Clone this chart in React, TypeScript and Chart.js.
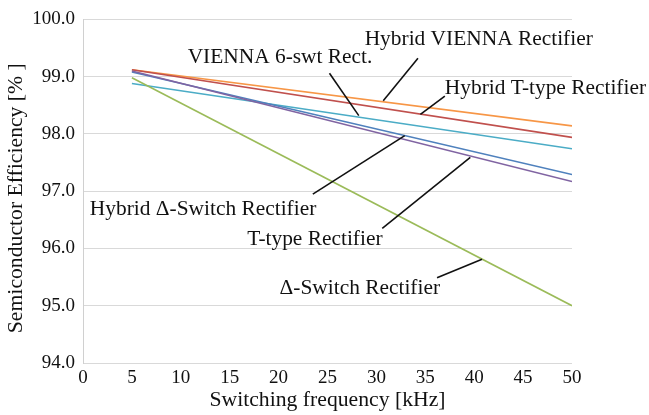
import React, { useEffect, useRef } from "react";
import { Chart, registerables } from "chart.js";

Chart.register(...registerables);

// Switching frequency sweep (kHz)
const freqKHz = [5, 50];

// Semiconductor efficiency (%) at each frequency
const hybridVienna = [99.12, 98.14];
const hybridTType = [99.12, 97.94];
const vienna6swt = [98.88, 97.74];
const hybridDeltaSwitch = [99.08, 97.29];
const tType = [99.1, 97.17];
const deltaSwitch = [98.98, 95.0];

const seriesNames = [
  "Hybrid VIENNA Rectifier",
  "Hybrid T-type Rectifier",
  "VIENNA 6-swt Rect.",
  "Hybrid Δ-Switch Rectifier",
  "T-type Rectifier",
  "Δ-Switch Rectifier",
];

const xTicks = [0, 5, 10, 15, 20, 25, 30, 35, 40, 45, 50];
const yTicks = [94, 95, 96, 97, 98, 99, 100];

const xTitle = "Switching frequency [kHz]";
const yTitle = "Semiconductor Efficiency [% ]";

const FONT = '"Liberation Serif", "Times New Roman", serif';

// Callout labels with leader lines, placed in data units (kHz, %)
const callouts = [
  { text: seriesNames[0], tx: 28.8, ty: 99.65, from: [34.25, 99.32], to: [30.7, 98.58] },
  { text: seriesNames[2], tx: 10.7, ty: 99.33, from: [25.2, 99.06], to: [28.2, 98.32] },
  { text: seriesNames[1], tx: 37.0, ty: 98.8, from: [37.0, 98.66], to: [34.5, 98.34] },
  { text: seriesNames[3], tx: 0.7, ty: 96.69, from: [23.5, 96.95], to: [32.9, 97.97] },
  { text: seriesNames[4], tx: 16.8, ty: 96.16, from: [30.6, 96.35], to: [39.6, 97.59] },
  { text: seriesNames[5], tx: 20.1, ty: 95.31, from: [36.2, 95.49], to: [40.8, 95.81] },
];

const calloutPlugin = {
  id: "callouts",
  afterDatasetsDraw(chart: any) {
    const { ctx, scales, chartArea } = chart;
    const xs = scales.x;
    const ys = scales.y;
    ctx.save();
    ctx.fillStyle = "#111";
    ctx.strokeStyle = "#111";
    ctx.lineWidth = 1.6;
    ctx.font = `21.4px ${FONT}`;
    ctx.textAlign = "left";
    ctx.textBaseline = "middle";
    for (const c of callouts) {
      ctx.fillText(c.text, xs.getPixelForValue(c.tx), ys.getPixelForValue(c.ty));
      ctx.beginPath();
      ctx.moveTo(xs.getPixelForValue(c.from[0]), ys.getPixelForValue(c.from[1]));
      ctx.lineTo(xs.getPixelForValue(c.to[0]), ys.getPixelForValue(c.to[1]));
      ctx.stroke();
    }

    // vertical axis title, sitting a little below the plot's midline
    ctx.font = `21.7px ${FONT}`;
    ctx.textAlign = "center";
    ctx.translate(16, (chartArea.top + chartArea.bottom) / 2 + 7);
    ctx.rotate(-Math.PI / 2);
    ctx.fillText(yTitle, 0, 0);
    ctx.restore();
  },
};

const toPoints = (vals: number[]) => vals.map((v, i) => ({ x: freqKHz[i], y: v }));

export default function App() {
  const canvasRef = useRef<HTMLCanvasElement | null>(null);

  useEffect(() => {
    document.body.style.margin = "0";
    const canvas = canvasRef.current;
    if (!canvas) return;

    const mk = (label: string, vals: number[], color: string) => ({
      label,
      data: toPoints(vals),
      borderColor: color,
      backgroundColor: color,
      borderWidth: 1.6,
      showLine: true,
      pointRadius: 0,
      fill: false,
    });

    const chart = new Chart(canvas, {
      type: "scatter",
      data: {
        datasets: [
          mk(seriesNames[5], deltaSwitch, "#9BBB59"),
          mk(seriesNames[4], tType, "#8064A2"),
          mk(seriesNames[3], hybridDeltaSwitch, "#4F81BD"),
          mk(seriesNames[2], vienna6swt, "#4BACC6"),
          mk(seriesNames[1], hybridTType, "#C0504D"),
          mk(seriesNames[0], hybridVienna, "#F79646"),
        ],
      },
      options: {
        animation: false,
        responsive: false,
        layout: { padding: { left: 0, right: 77, top: 16, bottom: 0 } },
        plugins: {
          legend: { display: false },
          tooltip: { enabled: false },
        },
        scales: {
          x: {
            type: "linear",
            min: 0,
            max: 50,
            afterFit: (s: any) => {
              s.height = 52;
            },
            afterBuildTicks: (s: any) => {
              s.ticks = xTicks.map((v) => ({ value: v }));
            },
            grid: { display: false, drawTicks: false },
            border: { display: false },
            ticks: {
              padding: 4,
              color: "#111",
              font: { family: FONT, size: 19 },
              maxRotation: 0,
              autoSkip: false,
            },
            title: {
              display: true,
              text: xTitle,
              color: "#111",
              font: { family: FONT, size: 21.7 },
              padding: { top: 0, bottom: 2 },
            },
          },
          y: {
            type: "linear",
            min: 94,
            max: 100,
            afterFit: (s: any) => {
              s.width = 83;
            },
            afterBuildTicks: (s: any) => {
              s.ticks = yTicks.map((v) => ({ value: v }));
            },
            grid: { color: "#d9d9d9", lineWidth: 1, drawTicks: false },
            border: { display: true, color: "#d0d0d0", width: 1 },
            ticks: {
              padding: 8,
              color: "#111",
              font: { family: FONT, size: 19 },
              callback: (v: any) => Number(v).toFixed(1),
            },
            title: { display: false },
          },
        },
      },
      plugins: [calloutPlugin],
    });

    return () => chart.destroy();
  }, []);

  return (
    <div style={{ width: 649, height: 415, background: "#fff" }}>
      <canvas ref={canvasRef} width={649} height={415} />
    </div>
  );
}
